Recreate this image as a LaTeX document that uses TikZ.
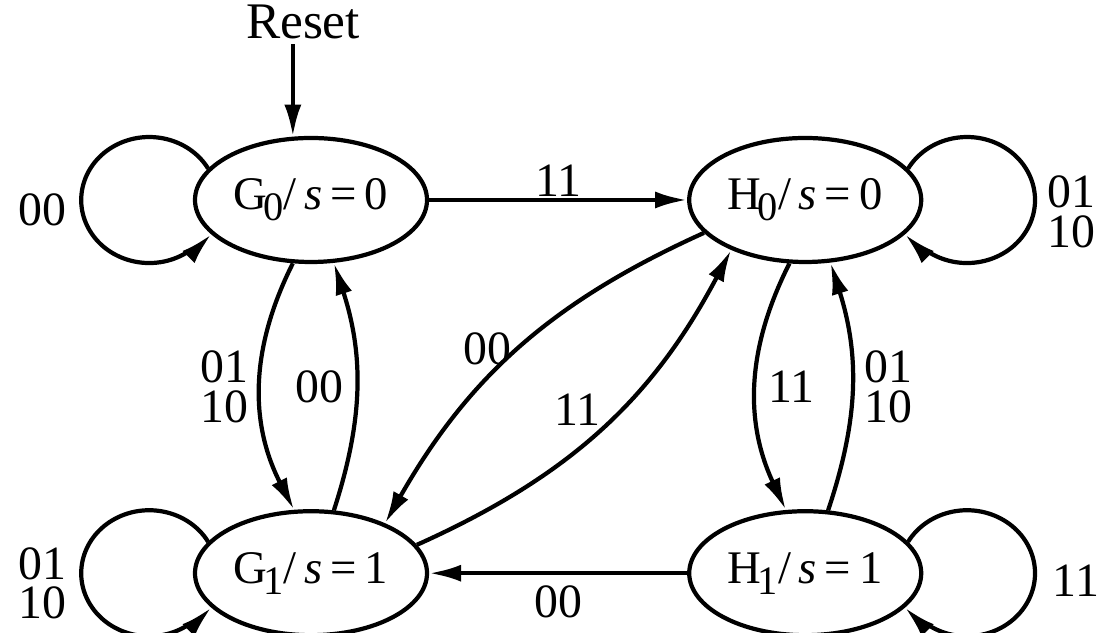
\documentclass[tikz,border=0pt]{standalone}
\usepackage{fontspec}
\setmainfont{Liberation Serif}
\usetikzlibrary{positioning,arrows.meta,shapes.geometric}
\newcommand{\fsmtext}[3]{#1\kern-0.08em\raisebox{-0.5ex}{\fontsize{11.5}{12}\selectfont #2}/\,\textit{s}\,=\,#3}

\begin{document}
\begin{tikzpicture}[>={Latex[length=3.2mm,width=1.7mm]},node distance=2.45cm and 2.58cm,line width=1.2pt,
  fsm/.style={ellipse,draw,inner sep=0pt,minimum width=2.32cm,minimum height=1.24cm,font=\fontsize{13.3}{15}\selectfont},
  lbl/.style={inner sep=3pt,align=center,font=\fontsize{13.6}{11.2}\selectfont},
  loopl/.style={start angle=30,end angle=300,x radius=0.68cm,y radius=0.63cm},
  loopr/.style={start angle=150,end angle=-120,x radius=0.68cm,y radius=0.63cm}]
\useasboundingbox (0,0) rectangle (11,6.33);
\node (G0) [fsm] at (3.11,4.33) {\fsmtext{G}{0}{0}};
\node (H0) [fsm,right=of G0] {\fsmtext{H}{0}{0}};
\node (G1) [fsm,below=of G0] {\fsmtext{G}{1}{1}};
\node (H1) [fsm,below=of H0] {\fsmtext{H}{1}{1}};
\node (reset) [above=0.915cm of G0,inner sep=1pt,xshift=-0.8mm,font=\fontsize{14.6}{16}\selectfont] {Reset};
\node (lg0) [lbl,left=1.14cm of G0,yshift=-1mm] {00};
\node (lg1) [lbl,left=1.14cm of G1,yshift=-1mm] {01\\10};
\node (lh0) [lbl,right=1.12cm of H0,yshift=-1.2mm] {01\\10};
\node (lh1) [lbl,right=1.17cm of H1,yshift=-0.8mm] {11};
\draw[->] (reset.south -| G0.106) -- (G0.106);
\draw[->] (G0.163) arc[loopl] to[out=28,in=225] (G0.199);
\draw[->] (G1.163) arc[loopl] to[out=28,in=225] (G1.199);
\draw[->] (H0.17) arc[loopr] to[out=152,in=-45] (H0.341);
\draw[->] (H1.17) arc[loopr] to[out=152,in=-45] (H1.341);
\draw[->] (G0) -- (H0) node[lbl,midway,above,inner sep=0.5pt] {11};
\draw[->] (H1) -- (G1) node[lbl,midway,below] {00};
\draw[->] (G0.254) to[bend right=27] node[lbl,left] {01\\10} (G1.105);
\draw[->] (G1.70) to[bend right=18] node[lbl,left] {00} (G0.290);
\draw[->] (H0.256) to[bend right=26] node[lbl,right] {11} (H1.107);
\draw[->] (H1.70) to[bend right=18] node[lbl,right] {01\\10} (H0.292);
\draw[->] (H0.198) to[bend right=18] node[lbl,anchor=east,inner sep=0pt,xshift=-0.5mm] {00} (G1.34);
\draw[->] (G1.15) to[bend right=19] node[lbl,anchor=south east,inner sep=0pt] {11} (H0.214);
\end{tikzpicture}
\end{document}
